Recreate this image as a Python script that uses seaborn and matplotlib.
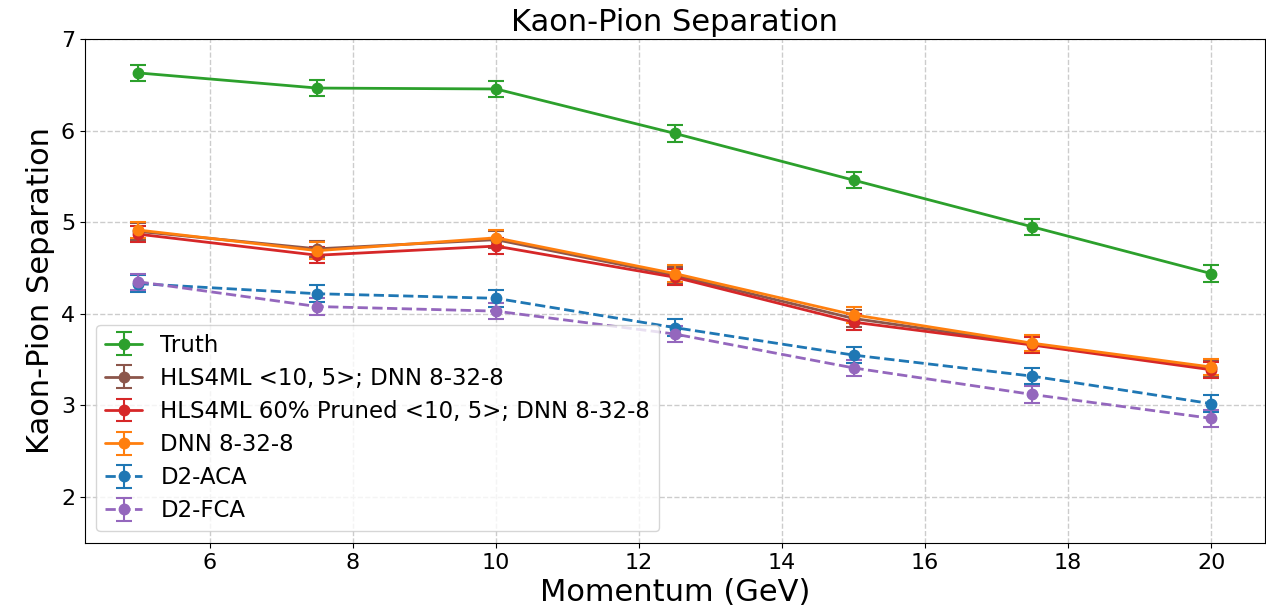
import matplotlib
matplotlib.use("Agg")
import matplotlib.pyplot as plt
import seaborn as sns
import numpy as np

momentum = [5, 7.5, 10, 12.5, 15, 17.5, 20]
truth = [6.63, 6.465, 6.455, 5.97, 5.46, 4.95, 4.44]
hls4ml = [4.90, 4.71, 4.81, 4.42, 3.95, 3.67, 3.41]
hls4ml_pruned = [4.87, 4.64, 4.74, 4.40, 3.91, 3.66, 3.39]
dnn = [4.915, 4.69, 4.83, 4.44, 3.99, 3.68, 3.42]
d2_aca = [4.33, 4.22, 4.17, 3.85, 3.55, 3.32, 3.02]
d2_fca = [4.35, 4.08, 4.03, 3.78, 3.41, 3.12, 2.86]
err = 0.09

series = [
    ("Truth", truth, "tab:green", "-"),
    ("HLS4ML <10, 5>; DNN 8-32-8", hls4ml, "tab:brown", "-"),
    ("HLS4ML 60% Pruned <10, 5>; DNN 8-32-8", hls4ml_pruned, "tab:red", "-"),
    ("DNN 8-32-8", dnn, "tab:orange", "-"),
    ("D2-ACA", d2_aca, "tab:blue", "--"),
    ("D2-FCA", d2_fca, "tab:purple", "--"),
]

sns.set_style("ticks")
plt.rcParams['font.family'] = ['DejaVu Sans']
plt.rcParams.update({'text.color': 'black', 'axes.labelcolor': 'black',
                     'xtick.color': 'black', 'ytick.color': 'black'})

fig, ax = plt.subplots(figsize=(12.66, 6.10), dpi=100)
for label, vals, color, ls in series:
    ax.errorbar(momentum, vals, yerr=[err] * len(vals), label=label, color=color,
                linestyle=ls, marker='o', markersize=7.5, capsize=6, linewidth=2,
                elinewidth=1.5, capthick=1.5)

ax.set_ylim(1.5, 7)
ax.set_xlim(4.25, 20.75)
ax.set_xticks([6, 8, 10, 12, 14, 16, 18, 20])
ax.set_yticks([2, 3, 4, 5, 6, 7])
ax.grid(True, linestyle='--', color='#cccccc', linewidth=1)
ax.tick_params(labelsize=16)
ax.set_title("Kaon-Pion Separation", fontsize=22)
ax.set_xlabel("Momentum (GeV)", fontsize=22)
ax.set_ylabel("Kaon-Pion Separation", fontsize=22)
ax.legend(loc='lower left', fontsize=16.5, handlelength=1.6, labelspacing=0.44)
for s in ax.spines.values():
    s.set_color('black')

fig.subplots_adjust(left=0.067, right=0.999, top=0.936, bottom=0.11)
fig.savefig("out.png", dpi=100)
